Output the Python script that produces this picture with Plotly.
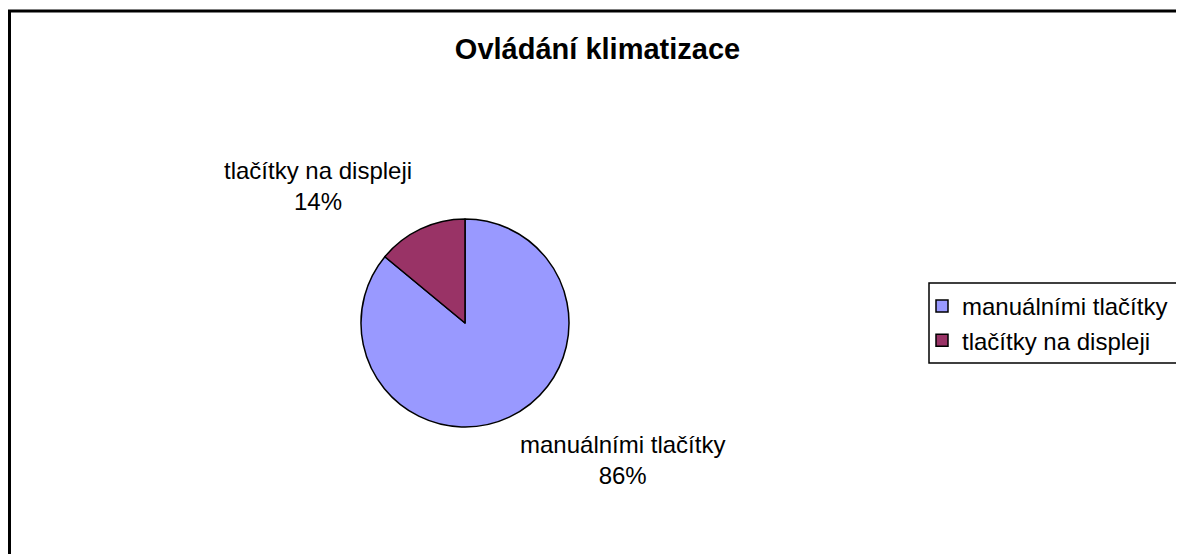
import plotly.graph_objects as go

labels = ["manuálními tlačítky", "tlačítky na displeji"]
values = [86, 14]
colors = ["#9999FF", "#993366"]
title_text = "Ovládání klimatizace"

# page body has an 8px margin; figure fills the rest of the 1184x554 window
W, H = 1176, 546
FONT = "Liberation Sans, Arial, sans-serif"


def px(x):
    return x / W


def py(y):
    return 1 - y / H


fig = go.Figure()
fig.add_trace(go.Pie(
    labels=labels,
    values=values,
    sort=False,
    direction="clockwise",
    rotation=0,
    marker=dict(colors=colors, line=dict(color="black", width=1.5)),
    textinfo="none",
    hoverinfo="label+percent",
    domain=dict(x=[px(353), px(561)], y=[py(419), py(211)]),
))

total = sum(values)
pcts = [round(v * 100 / total) for v in values]
label_pos = [(614, 452), (310, 178)]
for lab, p, (lx, ly) in zip(labels, pcts, label_pos):
    fig.add_annotation(
        x=px(lx), y=py(ly), xref="paper", yref="paper",
        text=f"{lab}<br>{p}%", showarrow=False,
        font=dict(family=FONT, size=24, color="black"),
        xanchor="center", yanchor="middle", align="center",
    )

# outer chart border (runs off the right and bottom edges)
fig.add_shape(type="rect", xref="paper", yref="paper",
              x0=px(1.5), x1=1.05, y0=-0.1, y1=py(3),
              line=dict(color="black", width=3), fillcolor="rgba(0,0,0,0)")
# legend frame
fig.add_shape(type="rect", xref="paper", yref="paper",
              x0=px(921), x1=px(1170), y0=py(355), y1=py(275),
              line=dict(color="black", width=1.5), fillcolor="white",
              layer="below")

fig.update_layout(
    width=W, height=H,
    margin=dict(l=0, r=0, t=0, b=0),
    paper_bgcolor="white",
    plot_bgcolor="white",
    title=dict(text=f"<b>{title_text}</b>", x=px(589.5), xanchor="center",
               y=py(41), yanchor="middle",
               font=dict(family=FONT, size=29, color="black")),
    showlegend=True,
    legend=dict(x=px(914), xanchor="left", y=py(276), yanchor="top",
                borderwidth=0,
                font=dict(family=FONT, size=24, color="black"),
                bgcolor="rgba(0,0,0,0)", itemclick=False, itemwidth=30),
)

fig.write_html("out.html")
